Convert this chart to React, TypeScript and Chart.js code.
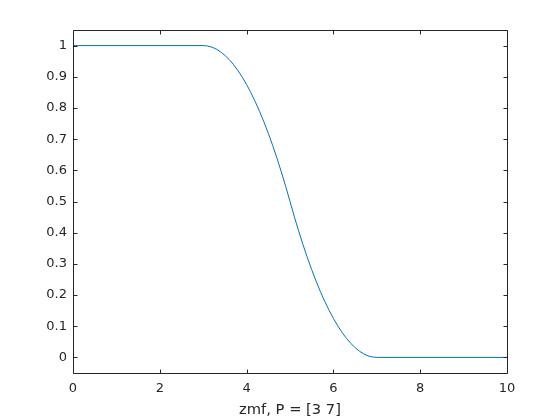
import React, { useEffect, useRef } from "react";
import { Chart, registerables } from "chart.js";

Chart.register(...registerables);

const xValues = [0, 3, 3.1, 3.2, 3.3, 3.4, 3.5, 3.6, 3.7, 3.8, 3.9, 4, 4.1, 4.2, 4.3, 4.4, 4.5, 4.6, 4.7, 4.8, 4.9, 5, 5.1, 5.2, 5.3, 5.4, 5.5, 5.6, 5.7, 5.8, 5.9, 6, 6.1, 6.2, 6.3, 6.4, 6.5, 6.6, 6.7, 6.8, 6.9, 7, 10];
const yValues = [1, 1, 0.9988, 0.995, 0.9888, 0.98, 0.9688, 0.955, 0.9388, 0.92, 0.8988, 0.875, 0.8488, 0.82, 0.7888, 0.755, 0.7188, 0.68, 0.6388, 0.595, 0.5488, 0.5, 0.4513, 0.405, 0.3613, 0.32, 0.2813, 0.245, 0.2113, 0.18, 0.1513, 0.125, 0.1013, 0.08, 0.0613, 0.045, 0.0313, 0.02, 0.0113, 0.005, 0.0013, 0, 0];
const xTicks = [0, 2, 4, 6, 8, 10];
const yTicks = [0, 0.1, 0.2, 0.3, 0.4, 0.5, 0.6, 0.7, 0.8, 0.9, 1];
const xLabel = "zmf, P = [3 7]";

const AXIS_COLOR = "#262626";
const LINE_COLOR = "#0072BD";

const boxPlugin = {
  id: "matlabBox",
  afterDraw(chart: any) {
    const { ctx, chartArea } = chart;
    const { left, right, top, bottom } = chartArea;
    const xs = chart.scales.x;
    const ys = chart.scales.y;
    const tl = 4;
    ctx.save();
    ctx.strokeStyle = AXIS_COLOR;
    ctx.lineWidth = 1;
    ctx.beginPath();
    const L = Math.round(left) + 0.5;
    const R = Math.round(right) + 0.5;
    const T = Math.round(top) + 0.5;
    const B = Math.round(bottom) + 0.5;
    ctx.rect(L, T, R - L, B - T);
    for (const v of xTicks) {
      const px = Math.round(xs.getPixelForValue(v)) + 0.5;
      ctx.moveTo(px, B);
      ctx.lineTo(px, B - tl);
      ctx.moveTo(px, T);
      ctx.lineTo(px, T + tl);
    }
    for (const v of yTicks) {
      const py = Math.round(ys.getPixelForValue(v)) + 0.5;
      ctx.moveTo(L, py);
      ctx.lineTo(L + tl, py);
      ctx.moveTo(R, py);
      ctx.lineTo(R - tl, py);
    }
    ctx.stroke();
    ctx.restore();
  },
};

export default function App() {
  const ref = useRef<HTMLCanvasElement | null>(null);
  useEffect(() => {
    if (!ref.current) return;
    Chart.defaults.font.family = "'DejaVu Sans', sans-serif";
    const chart = new Chart(ref.current, {
      type: "line",
      data: {
        datasets: [
          {
            data: xValues.map((x, i) => ({ x, y: yValues[i] })),
            borderColor: LINE_COLOR,
            borderWidth: 1,
            pointRadius: 0,
            tension: 0,
            fill: false,
          },
        ],
      },
      options: {
        responsive: false,
        animation: false,
        layout: { padding: { top: 30, right: 53, left: 0, bottom: 0 } },
        plugins: { legend: { display: false }, tooltip: { enabled: false } },
        scales: {
          x: {
            type: "linear",
            min: 0,
            max: 10,
            grid: { display: false, drawTicks: false },
            border: { display: false },
            afterBuildTicks: (s: any) => {
              s.ticks = xTicks.map((v) => ({ value: v }));
            },
            afterFit: (s: any) => {
              s.height = 47;
            },
            ticks: {
              color: AXIS_COLOR,
              font: { size: 13 },
              padding: 8,
              maxRotation: 0,
              autoSkip: false,
              callback: (v: any) => String(v),
            },
            title: {
              display: true,
              text: xLabel,
              color: AXIS_COLOR,
              font: { size: 14.7 },
              padding: { top: 0, bottom: 1 },
            },
          },
          y: {
            type: "linear",
            min: -0.05,
            max: 1.05,
            grid: { display: false, drawTicks: false },
            border: { display: false },
            afterBuildTicks: (s: any) => {
              s.ticks = yTicks.map((v) => ({ value: v }));
            },
            afterFit: (s: any) => {
              s.width = 73;
            },
            ticks: {
              color: AXIS_COLOR,
              font: { size: 13 },
              padding: 6,
              autoSkip: false,
              callback: (v: any) => String(Math.round(Number(v) * 10) / 10),
            },
          },
        },
      },
      plugins: [boxPlugin],
    });
    return () => chart.destroy();
  }, []);
  return (
    <div style={{ position: "fixed", left: 0, top: 0, width: 560, height: 420, background: "#fff" }}>
      <canvas ref={ref} width={560} height={420} />
    </div>
  );
}
